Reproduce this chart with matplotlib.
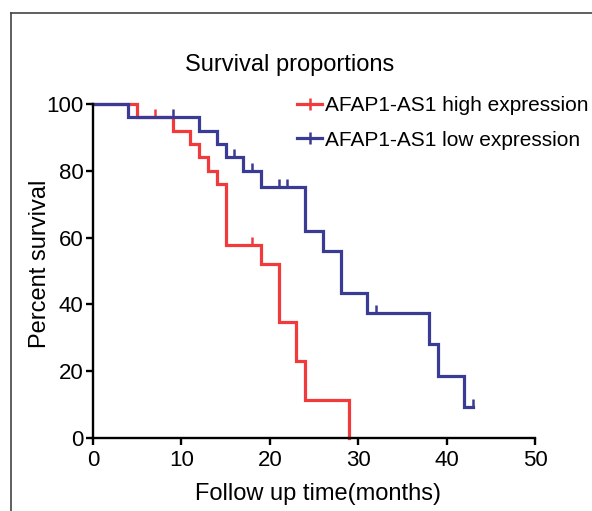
import numpy as np
import matplotlib
matplotlib.use("Agg")
import matplotlib.pyplot as plt
from matplotlib.lines import Line2D
from matplotlib.path import Path

plt.rcParams['font.family'] = ['Liberation Sans', 'DejaVu Sans']

# Kaplan-Meier steps (months, percent survival)
high_t = [0, 5, 9, 11, 12, 13, 14, 15, 19, 21, 23, 24, 29]
high_s = [100, 96, 92, 88, 84, 80, 76, 57.7, 52, 34.6, 23, 11.5, 0]
high_cens = [7, 18]

low_t = [0, 4, 12, 14, 15, 17, 19, 24, 26, 28, 31, 38, 39, 42, 43]
low_s = [100, 96, 92, 88, 84, 80, 75, 62, 56, 43.5, 37.3, 28, 18.7, 9.3, 9.3]
low_cens = [9, 16, 18, 21, 22, 32, 43]

labels = ['AFAP1-AS1 high expression', 'AFAP1-AS1 low expression']
red = '#f03a3c'
blue = '#3a3b94'

xticks = [0, 10, 20, 30, 40, 50]
yticks = [0, 20, 40, 60, 80, 100]


def surv_at(t, s, x):
    i = np.searchsorted(t, x, side='right') - 1
    return np.asarray(s)[i]


fig = plt.figure(figsize=(5.92, 5.11), dpi=100)
ax = fig.add_axes([0.1571, 0.1429, 0.7466, 0.6536])

# upward censor tick
tick = Path([(0, 0), (0, 1)])

for t, s, cens, col in [(high_t, high_s, high_cens, red), (low_t, low_s, low_cens, blue)]:
    ax.step(t, s, where='post', color=col, lw=2.3, clip_on=False, solid_joinstyle='miter')
    ax.plot(cens, surv_at(t, s, cens), ls='none', marker=tick, ms=12,
            mec=col, mew=1.8, clip_on=False)

ax.set_xlim(0, 50)
ax.set_ylim(0, 100)
ax.set_xticks(xticks)
ax.set_yticks(yticks)
for sp in ['top', 'right']:
    ax.spines[sp].set_visible(False)
for sp in ['left', 'bottom']:
    ax.spines[sp].set_linewidth(1.7)
ax.tick_params(direction='out', length=5, width=1.7, labelsize=16, pad=2)
ax.tick_params(axis='x', pad=4)

handles = [Line2D([], [], color=red, lw=2.3, marker='|', ms=8, mew=1.8),
           Line2D([], [], color=blue, lw=2.3, marker='|', ms=8, mew=1.8)]
ax.legend(handles, labels, loc='upper left', bbox_to_anchor=(297 / 592, 1 - 96 / 511),
          bbox_transform=fig.transFigure, frameon=False, fontsize=15,
          handlelength=1.2, handletextpad=0.15, borderpad=0, borderaxespad=0,
          labelspacing=0.75)

fig.text(290 / 592, 1 - 65 / 511, 'Survival proportions', ha='center', va='center', fontsize=17)
fig.text(40 / 592, 1 - 264 / 511, 'Percent survival', ha='center', va='center',
         rotation=90, fontsize=17)
fig.text(318 / 592, 1 - 494 / 511, 'Follow up time(months)', ha='center', va='center', fontsize=17)

# outer frame (left and top edges visible)
fy = 1 - 13 / 511
fx = 11 / 592
fig.add_artist(Line2D([fx, fx], [0, fy], color='#444444', lw=1.2, transform=fig.transFigure))
fig.add_artist(Line2D([fx, 1], [fy, fy], color='#444444', lw=1.2, transform=fig.transFigure))

fig.savefig('out.png', dpi=100)
